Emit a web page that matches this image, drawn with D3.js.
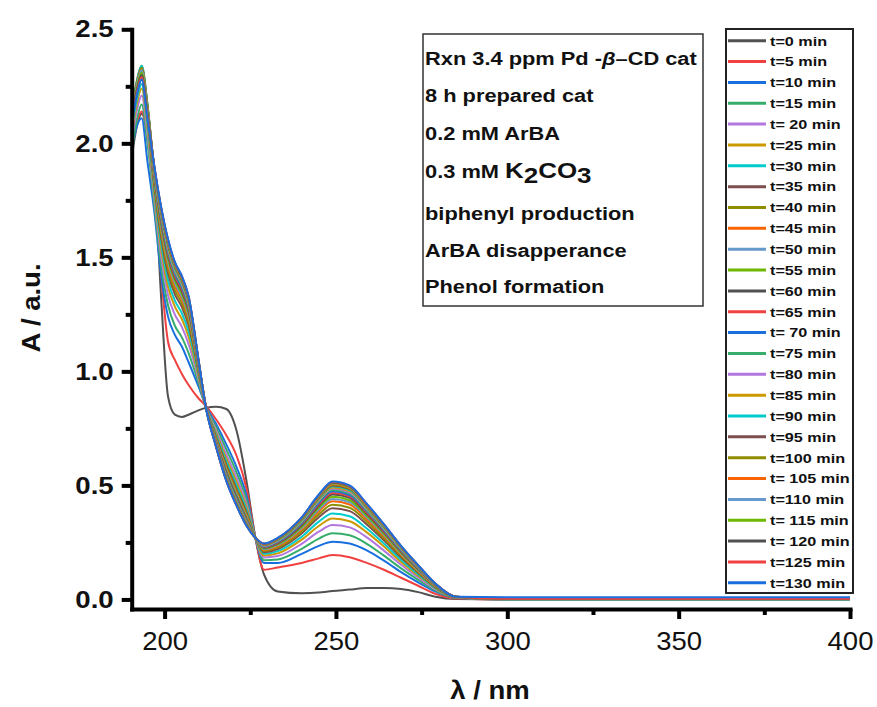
<!DOCTYPE html>
<html>
<head>
<meta charset="utf-8">
<script src="https://cdn.jsdelivr.net/npm/d3@7"></script>
<style>
  body { margin: 0; background: #ffffff; }
  text { font-family: "Liberation Sans", Arial, sans-serif; }
</style>
</head>
<body>
<script>
// wavelength grid (nm) shared by every spectrum
const wavelengths = [190.4, 192, 193.3, 195, 197, 199, 201, 203, 205, 207, 210, 212, 215, 218, 221, 224, 226.5, 229, 233, 240, 245, 249, 254, 259, 264, 269, 274, 279, 285, 300, 400]

const times = [0, 5, 10, 15, 20, 25, 30, 35, 40, 45, 50, 55, 60, 65, 70, 75, 80, 85, 90, 95, 100, 105, 110, 115, 120, 125, 130]
const legendLabels = ["t=0 min", "t=5 min", "t=10 min", "t=15 min", "t= 20 min", "t=25 min", "t=30 min", "t=35 min",
    "t=40 min", "t=45 min", "t=50 min", "t=55 min", "t=60 min", "t=65 min", "t= 70 min", "t=75 min", "t=80 min",
    "t=85 min", "t=90 min", "t=95 min", "t=100 min", "t= 105 min", "t=110 min", "t= 115 min", "t= 120 min",
    "t=125 min", "t=130 min"]

const palette = ["#515151", "#F14040", "#1A6FDF", "#37AD6B", "#B177DE", "#CC9900",
    "#00CBCC", "#7D4E4E", "#8E8E00", "#FB6501", "#6699CC", "#6FB802"]

// absorbance, one array per time
const a0 = [1.94, 2.08, 2.13, 2.05, 1.86, 1.32, 0.89, 0.81, 0.80, 0.81, 0.83, 0.84, 0.845, 0.835, 0.74, 0.51, 0.27, 0.11, 0.035, 0.027, 0.03, 0.037, 0.043, 0.05, 0.05, 0.046, 0.032, 0.012, 0.002, 0.0, 0.0]
const a5 = [2.02, 2.10, 2.14, 2.02, 1.78, 1.42, 1.13, 1.05, 0.99, 0.94, 0.88, 0.85, 0.79, 0.72, 0.63, 0.48, 0.27, 0.13, 0.14, 0.16, 0.18, 0.195, 0.185, 0.16, 0.13, 0.095, 0.06, 0.025, 0.004, 0.0, 0.0]
const a10 = [1.98, 2.08, 2.11, 1.92, 1.70, 1.42, 1.24, 1.16, 1.11, 1.04, 0.93, 0.85, 0.77, 0.68, 0.58, 0.45, 0.27, 0.16, 0.16, 0.20, 0.235, 0.253, 0.245, 0.215, 0.17, 0.12, 0.075, 0.035, 0.006, 0.0, 0.0]
const a15 = [1.97, 2.11, 2.17, 2.00, 1.73, 1.46, 1.29, 1.20, 1.15, 1.08, 0.945, 0.847, 0.756, 0.658, 0.556, 0.432, 0.27, 0.172, 0.175, 0.222, 0.267, 0.29, 0.281, 0.244, 0.192, 0.136, 0.086, 0.040, 0.007, 0.0, 0.0]
const a20 = [2.01, 2.15, 2.21, 2.04, 1.755, 1.503, 1.334, 1.249, 1.196, 1.120, 0.960, 0.847, 0.742, 0.636, 0.533, 0.414, 0.27, 0.184, 0.190, 0.244, 0.297, 0.326, 0.316, 0.272, 0.214, 0.152, 0.096, 0.045, 0.008, 0.001, 0.001]
const a25 = [2.04, 2.18, 2.24, 2.07, 1.777, 1.536, 1.371, 1.284, 1.230, 1.152, 0.972, 0.847, 0.731, 0.618, 0.514, 0.400, 0.27, 0.193, 0.202, 0.262, 0.322, 0.355, 0.343, 0.294, 0.232, 0.164, 0.104, 0.049, 0.008, 0.001, 0.001]
const a30 = [2.06, 2.20, 2.26, 2.09, 1.794, 1.561, 1.400, 1.310, 1.256, 1.176, 0.982, 0.847, 0.723, 0.605, 0.500, 0.389, 0.27, 0.200, 0.212, 0.275, 0.341, 0.377, 0.365, 0.311, 0.245, 0.174, 0.110, 0.051, 0.009, 0.001, 0.001]
const a35 = [2.08, 2.22, 2.28, 2.11, 1.811, 1.587, 1.429, 1.338, 1.283, 1.202, 0.991, 0.847, 0.714, 0.591, 0.485, 0.378, 0.27, 0.207, 0.221, 0.289, 0.360, 0.400, 0.387, 0.329, 0.259, 0.184, 0.117, 0.054, 0.009, 0.002, 0.002]
const a40 = [2.09, 2.23, 2.29, 2.12, 1.823, 1.604, 1.449, 1.356, 1.300, 1.218, 0.998, 0.847, 0.709, 0.582, 0.476, 0.370, 0.27, 0.212, 0.228, 0.298, 0.373, 0.415, 0.402, 0.341, 0.268, 0.191, 0.121, 0.056, 0.010, 0.002, 0.002]
const a45 = [2.10, 2.24, 2.30, 2.13, 1.834, 1.621, 1.468, 1.374, 1.318, 1.234, 1.004, 0.847, 0.703, 0.573, 0.466, 0.363, 0.27, 0.217, 0.234, 0.307, 0.386, 0.430, 0.416, 0.352, 0.277, 0.197, 0.125, 0.058, 0.010, 0.002, 0.002]
const a50 = [2.11, 2.25, 2.31, 2.14, 1.842, 1.632, 1.481, 1.387, 1.329, 1.245, 1.008, 0.847, 0.699, 0.567, 0.460, 0.358, 0.27, 0.220, 0.238, 0.313, 0.394, 0.440, 0.426, 0.360, 0.283, 0.201, 0.128, 0.060, 0.010, 0.002, 0.002]
const a55 = [2.12, 2.26, 2.32, 2.15, 1.849, 1.644, 1.494, 1.399, 1.341, 1.256, 1.012, 0.847, 0.695, 0.561, 0.453, 0.353, 0.27, 0.223, 0.242, 0.319, 0.403, 0.450, 0.435, 0.368, 0.289, 0.206, 0.131, 0.061, 0.010, 0.002, 0.002]
const a60 = [2.12, 2.26, 2.32, 2.15, 1.857, 1.655, 1.507, 1.411, 1.353, 1.267, 1.016, 0.847, 0.692, 0.555, 0.447, 0.348, 0.27, 0.227, 0.246, 0.325, 0.411, 0.460, 0.445, 0.376, 0.295, 0.210, 0.134, 0.062, 0.011, 0.002, 0.002]
const a65 = [2.13, 2.27, 2.33, 2.16, 1.862, 1.663, 1.515, 1.419, 1.361, 1.275, 1.019, 0.847, 0.689, 0.550, 0.442, 0.345, 0.27, 0.229, 0.249, 0.330, 0.417, 0.467, 0.452, 0.381, 0.300, 0.213, 0.136, 0.063, 0.011, 0.002, 0.002]
const a70 = [2.13, 2.27, 2.33, 2.16, 1.867, 1.671, 1.525, 1.428, 1.369, 1.283, 1.022, 0.847, 0.686, 0.546, 0.438, 0.341, 0.27, 0.231, 0.252, 0.334, 0.423, 0.474, 0.458, 0.387, 0.304, 0.216, 0.138, 0.064, 0.011, 0.002, 0.002]
const a75 = [2.13, 2.27, 2.33, 2.16, 1.872, 1.678, 1.532, 1.435, 1.377, 1.289, 1.025, 0.847, 0.684, 0.542, 0.434, 0.338, 0.27, 0.233, 0.255, 0.338, 0.429, 0.480, 0.464, 0.391, 0.308, 0.219, 0.140, 0.065, 0.011, 0.003, 0.003]
const a80 = [2.14, 2.28, 2.34, 2.17, 1.877, 1.685, 1.540, 1.443, 1.384, 1.296, 1.027, 0.847, 0.682, 0.539, 0.430, 0.335, 0.27, 0.235, 0.257, 0.341, 0.434, 0.486, 0.470, 0.396, 0.311, 0.222, 0.141, 0.066, 0.011, 0.003, 0.003]
const a85 = [2.14, 2.28, 2.34, 2.17, 1.880, 1.690, 1.546, 1.448, 1.389, 1.301, 1.029, 0.847, 0.680, 0.536, 0.427, 0.333, 0.27, 0.237, 0.259, 0.344, 0.438, 0.491, 0.475, 0.400, 0.314, 0.224, 0.143, 0.067, 0.011, 0.003, 0.003]
const a90 = [2.14, 2.28, 2.34, 2.17, 1.884, 1.696, 1.553, 1.454, 1.395, 1.307, 1.031, 0.847, 0.678, 0.533, 0.424, 0.330, 0.27, 0.238, 0.261, 0.347, 0.442, 0.496, 0.480, 0.404, 0.317, 0.226, 0.144, 0.067, 0.012, 0.003, 0.003]
const a95 = [2.13, 2.27, 2.33, 2.16, 1.887, 1.701, 1.558, 1.460, 1.400, 1.311, 1.033, 0.847, 0.676, 0.530, 0.421, 0.328, 0.27, 0.240, 0.263, 0.350, 0.446, 0.500, 0.484, 0.407, 0.320, 0.228, 0.145, 0.068, 0.012, 0.003, 0.003]
const a100 = [2.13, 2.27, 2.33, 2.16, 1.889, 1.704, 1.562, 1.463, 1.404, 1.315, 1.034, 0.847, 0.675, 0.528, 0.419, 0.327, 0.27, 0.240, 0.264, 0.352, 0.448, 0.503, 0.486, 0.409, 0.322, 0.229, 0.146, 0.068, 0.012, 0.003, 0.003]
const a105 = [2.12, 2.26, 2.32, 2.15, 1.892, 1.707, 1.566, 1.467, 1.407, 1.318, 1.035, 0.847, 0.674, 0.527, 0.417, 0.325, 0.27, 0.241, 0.265, 0.353, 0.451, 0.506, 0.489, 0.411, 0.323, 0.230, 0.147, 0.069, 0.012, 0.003, 0.003]
const a110 = [2.12, 2.26, 2.32, 2.15, 1.894, 1.711, 1.570, 1.470, 1.411, 1.321, 1.037, 0.847, 0.673, 0.525, 0.415, 0.324, 0.27, 0.242, 0.267, 0.355, 0.453, 0.509, 0.492, 0.414, 0.325, 0.232, 0.148, 0.069, 0.012, 0.003, 0.003]
const a115 = [2.11, 2.25, 2.31, 2.14, 1.895, 1.713, 1.572, 1.473, 1.413, 1.323, 1.037, 0.847, 0.672, 0.524, 0.414, 0.323, 0.27, 0.243, 0.267, 0.356, 0.455, 0.511, 0.494, 0.415, 0.326, 0.232, 0.148, 0.069, 0.012, 0.003, 0.003]
const a120 = [2.10, 2.24, 2.30, 2.13, 1.897, 1.716, 1.575, 1.475, 1.415, 1.326, 1.038, 0.847, 0.671, 0.522, 0.413, 0.322, 0.27, 0.244, 0.268, 0.358, 0.457, 0.513, 0.496, 0.417, 0.328, 0.233, 0.149, 0.069, 0.012, 0.003, 0.003]
const a125 = [2.09, 2.23, 2.29, 2.12, 1.898, 1.718, 1.577, 1.477, 1.418, 1.328, 1.039, 0.847, 0.671, 0.521, 0.411, 0.321, 0.27, 0.244, 0.269, 0.359, 0.458, 0.515, 0.498, 0.418, 0.329, 0.234, 0.149, 0.070, 0.012, 0.003, 0.003]
const a130 = [2.08, 2.22, 2.28, 2.11, 1.90, 1.72, 1.58, 1.48, 1.42, 1.33, 1.04, 0.845, 0.67, 0.52, 0.41, 0.32, 0.27, 0.245, 0.27, 0.36, 0.46, 0.517, 0.50, 0.42, 0.33, 0.235, 0.15, 0.07, 0.012, 0.01, 0.01]

const spectra = [a0, a5, a10, a15, a20, a25, a30, a35, a40, a45, a50, a55, a60, a65, a70, a75, a80, a85,
    a90, a95, a100, a105, a110, a115, a120, a125, a130]

const xMajor = [200, 250, 300, 350, 400]
const xMinor = [225, 275, 325, 375]
const yMajor = [0, 0.5, 1.0, 1.5, 2.0, 2.5]
const yMinor = [0.25, 0.75, 1.25, 1.75, 2.25]

const noteLines = ["8 h prepared cat", "0.2 mM ArBA", null, "biphenyl production", "ArBA disapperance", "Phenol formation"]

const width = 877, height = 707
const axisX0 = 131.7, axisY0 = 609

const svg = d3.select("body").append("svg")
    .attr("width", width)
    .attr("height", height)
    .style("background", "#ffffff")

const x = d3.scaleLinear().domain([190.4, 400]).range([axisX0, 850])
const y = d3.scaleLinear().domain([-0.042, 2.5]).range([axisY0, 29.3])

const line = d3.line()
    .x((d, i) => x(wavelengths[i]))
    .y(d => y(d))
    .curve(d3.curveMonotoneX)

svg.append("g")
    .selectAll("path")
    .data(spectra)
    .enter()
    .append("path")
    .attr("d", line)
    .attr("fill", "none")
    .attr("stroke", (d, i) => palette[i % palette.length])
    .attr("stroke-width", 2)
    .attr("stroke-linejoin", "round")

// axes
const xAxis = svg.append("g")
    .attr("transform", `translate(0, ${axisY0})`)
    .call(d3.axisBottom(x).tickValues(xMajor).tickSize(10).tickPadding(13).tickSizeOuter(0))
xAxis.select(".domain").attr("stroke-width", 4).attr("stroke-linecap", "square").attr("stroke", "#000")
xAxis.selectAll(".tick line").attr("stroke-width", 4).attr("stroke", "#000")
xAxis.selectAll(".tick text")
    .attr("font-size", 25)
    .attr("fill", "#111")
    .attr("transform", "scale(1.1,1)")

svg.append("g")
    .attr("transform", `translate(0, ${axisY0})`)
    .call(d3.axisBottom(x).tickValues(xMinor).tickSize(6).tickFormat(""))
    .call(g => g.select(".domain").remove())
    .selectAll(".tick line").attr("stroke-width", 4).attr("stroke", "#000")

const yAxis = svg.append("g")
    .attr("transform", `translate(${axisX0}, 0)`)
    .call(d3.axisLeft(y).tickValues(yMajor).tickSize(10).tickPadding(8).tickSizeOuter(0).tickFormat(d3.format(".1f")))
yAxis.select(".domain").attr("stroke-width", 4).attr("stroke-linecap", "square").attr("stroke", "#000")
yAxis.selectAll(".tick line").attr("stroke-width", 4).attr("stroke", "#000")
yAxis.selectAll(".tick text")
    .attr("font-size", 24)
    .attr("font-weight", "bold")
    .attr("fill", "#111")
    .attr("x", -18 / 1.15)
    .attr("transform", "scale(1.15,1)")

svg.append("g")
    .attr("transform", `translate(${axisX0}, 0)`)
    .call(d3.axisLeft(y).tickValues(yMinor).tickSize(6).tickFormat(""))
    .call(g => g.select(".domain").remove())
    .selectAll(".tick line").attr("stroke-width", 4).attr("stroke", "#000")

// axis titles
svg.append("text")
    .attr("transform", "translate(40, 308) rotate(-90) scale(1.1,1)")
    .attr("text-anchor", "middle")
    .attr("font-size", 25)
    .attr("font-weight", "bold")
    .attr("fill", "#111")
    .text("A / a.u.")

svg.append("text")
    .attr("transform", "translate(490, 699) scale(1.1,1)")
    .attr("text-anchor", "middle")
    .attr("font-size", 25)
    .attr("font-weight", "bold")
    .attr("fill", "#111")
    .text("λ / nm")

// note box
svg.append("rect")
    .attr("x", 423).attr("y", 34)
    .attr("width", 280).attr("height", 272)
    .attr("fill", "#fff")
    .attr("stroke", "#333")
    .attr("stroke-width", 1.5)

const noteBaselines = [101.7, 140, 178, 220, 256.7, 293.3]

const first = svg.append("text")
    .attr("transform", "translate(425, 65) scale(1.18,1)")
    .attr("font-size", 18.5).attr("font-weight", "bold").attr("fill", "#111")
first.append("tspan").text("Rxn 3.4 ppm Pd -")
first.append("tspan").attr("font-style", "italic").text("β")
first.append("tspan").text("–CD cat")

noteLines.forEach((t, i) => {
    const txt = svg.append("text")
        .attr("transform", `translate(425, ${noteBaselines[i]}) scale(1.18,1)`)
        .attr("font-size", 18.5).attr("font-weight", "bold").attr("fill", "#111")
    if (t !== null) {
        txt.text(t)
    } else {
        txt.append("tspan").text("0.3 mM ")
        txt.append("tspan").attr("font-size", 22).text("K")
        txt.append("tspan").attr("font-size", 22).attr("dy", 5).text("2")
        txt.append("tspan").attr("font-size", 22).attr("dy", -5).text("CO")
        txt.append("tspan").attr("font-size", 22).attr("dy", 5).text("3")
    }
})

// legend
const legendTop = 40.7, legendStep = 20.85

svg.append("rect")
    .attr("x", 726).attr("y", 29)
    .attr("width", 127).attr("height", 564)
    .attr("fill", "#fff")
    .attr("stroke", "#222")
    .attr("stroke-width", 2)

const legendGroups = svg.selectAll("g.legend")
    .data(legendLabels)
    .enter()
    .append("g").attr("class", "legend")

legendGroups.append("line")
    .attr("x1", 728).attr("x2", 766)
    .attr("y1", (d, i) => legendTop + i * legendStep)
    .attr("y2", (d, i) => legendTop + i * legendStep)
    .attr("stroke", (d, i) => palette[i % palette.length])
    .attr("stroke-width", 3)

legendGroups.append("text")
    .attr("transform", (d, i) => `translate(770, ${legendTop + i * legendStep + 4.8}) scale(1.2,1)`)
    .attr("font-size", 13.5)
    .attr("font-weight", "bold")
    .attr("fill", "#111")
    .text(d => d)
</script>
</body>
</html>
